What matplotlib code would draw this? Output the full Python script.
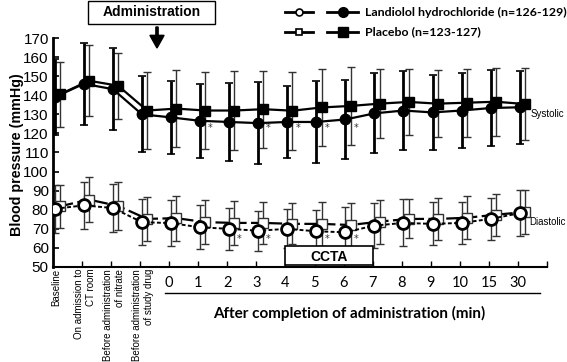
import matplotlib
matplotlib.use("Agg")
import matplotlib.pyplot as plt
from matplotlib.lines import Line2D
from matplotlib.patches import Rectangle, FancyArrow
import numpy as np

categories = ["Baseline", "On admission to\nCT room", "Before administration\nof nitrate",
              "Before administration\nof study drug", "0", "1", "2", "3", "4", "5", "6",
              "7", "8", "9", "10", "15", "30"]

sys_lan = [139, 146, 143.2, 130, 128.4, 126.6, 126, 125.4, 126, 126, 127.3, 130.5, 132, 131, 132, 133.3, 133.7]
sys_lan_sd = [19.9, 21.5, 21.5, 20, 19, 19.4, 20.4, 21.3, 19, 21.7, 20.8, 21, 20.7, 19.8, 19.9, 20.1, 19.2]
sys_pla = [140.5, 147.6, 145, 132, 133, 132, 132, 132.7, 131.9, 133.6, 134.4, 135.6, 136.5, 135.6, 136.1, 136.6, 135.4]
sys_pla_sd = [16.9, 18.7, 17.4, 20.2, 20.2, 20.1, 20.6, 20.2, 20.5, 20, 20.4, 18.2, 17.2, 17.5, 17.9, 17.9, 18.9]

dia_lan = [80.5, 82.3, 80.9, 73.5, 73, 70.8, 70, 69, 70, 68.7, 68.2, 71.7, 73.1, 72.6, 73.1, 75.2, 78.2]
dia_lan_sd = [12.5, 12.3, 12.6, 12.2, 12, 11.5, 11, 10.4, 10.2, 11.3, 13, 11.8, 12.3, 11.2, 11, 11, 12.1]
dia_pla = [81.8, 85.3, 82, 75.2, 75.6, 73.5, 73.1, 73.1, 72.6, 72.6, 72, 73.8, 75.2, 75.2, 75.8, 77.4, 78.8]
dia_pla_sd = [11.2, 11.7, 12.5, 11.7, 11.8, 11.7, 11.5, 11.2, 10.8, 11.4, 11.5, 11.5, 10.2, 10.8, 11.2, 11, 11.7]

sys_star_idx = [5, 7, 8, 9, 10]
dia_star_idx = [6, 7, 9, 10]

yticks = [50, 60, 70, 80, 90, 100, 110, 120, 130, 140, 150, 160, 170]

W, H = 567, 362
fig = plt.figure(figsize=(W / 100, H / 100), dpi=100)
ax = fig.add_axes([53 / W, 1 - 267 / H, (547 - 53) / W, (267 - 38) / H])

n = len(categories)
k = np.arange(n)
xl = k + 0.06
xp = k + 0.24

# Systolic
ax.errorbar(xp, sys_pla, yerr=sys_pla_sd, fmt="none", ecolor="#333333", elinewidth=1.0,
            capsize=3, capthick=1.0, zorder=2)
ax.errorbar(xl, sys_lan, yerr=sys_lan_sd, fmt="none", ecolor="black", elinewidth=2.0,
            capsize=3, capthick=1.2, zorder=2)
ax.plot(xp, sys_pla, "-", color="black", lw=1.6, marker="s", ms=6.5, mfc="black", mec="black", zorder=4)
ax.plot(xl, sys_lan, "-", color="black", lw=1.6, marker="o", ms=7.5, mfc="black", mec="black", zorder=5)

# Diastolic
ax.errorbar(xp, dia_pla, yerr=dia_pla_sd, fmt="none", ecolor="#333333", elinewidth=1.0,
            capsize=3, capthick=1.0, zorder=2)
ax.errorbar(xl, dia_lan, yerr=dia_lan_sd, fmt="none", ecolor="#333333", elinewidth=1.0,
            capsize=3, capthick=1.0, zorder=2)
ax.plot(xp, dia_pla, color="black", lw=1.6, ls=(0, (6, 2)), marker="s", ms=6.5, mfc="white",
        mec="#333333", mew=1.0, zorder=4)
ax.plot(xl, dia_lan, color="black", lw=1.4, ls=(0, (2, 1.2)), marker="o", ms=8.5, mfc="white",
        mec="black", mew=2.0, zorder=5)

for i in sys_star_idx:
    ax.text(k[i] + 0.42, 123, "*", fontsize=7, ha="center", va="center", color="#333333")
for i in dia_star_idx:
    ax.text(k[i] + 0.42, 64.5, "*", fontsize=7, ha="center", va="center", color="#333333")

# CCTA box
ax.add_patch(Rectangle((8, 51), 3, 10, fill=True, facecolor="white", edgecolor="black", lw=1.2, zorder=6))
ax.text(9.5, 55.5, "CCTA", fontsize=10, fontweight="bold", family="Liberation Sans",
        ha="center", va="center", zorder=7)

ax.set_xlim(0, 17)
ax.set_ylim(50, 170)
ax.set_yticks(yticks)
ax.set_yticklabels([str(v) for v in yticks], fontsize=11, family="Liberation Sans")
ax.set_xticks(np.arange(1, 18))
ax.set_xticklabels([])
ax.tick_params(axis="y", direction="in", length=4, width=1.2, pad=3)
ax.tick_params(axis="x", direction="in", length=4, width=1.0)
for s in ["top", "right"]:
    ax.spines[s].set_visible(False)
ax.spines["left"].set_linewidth(2.0)
ax.spines["bottom"].set_linewidth(1.5)

ax.text(-0.058, 0.49, "Blood pressure (mmHg)", transform=ax.transAxes, rotation=90,
        fontsize=10.3, fontweight="bold", family="Liberation Sans", ha="right", va="center")

trans = ax.get_xaxis_transform()
for i in range(4):
    ax.text(k[i] + 0.1, -0.008, categories[i], transform=trans, rotation=90, fontsize=7.0,
            family="Liberation Sans", ha="center", va="top", multialignment="right")
for i in range(4, n):
    ax.text(k[i], -0.07, categories[i], transform=trans, fontsize=10.5, family="Lato",
            ha="center", va="center")
ax.plot([3.85, 16.75], [-0.115, -0.115], transform=trans, color="black", lw=1.0, clip_on=False)
ax.text(10.2, -0.205, "After completion of administration (min)", transform=trans,
        fontsize=11, fontweight="bold", family="Lato", ha="center", va="center")

ax.text(16.42, 130, "Systolic", fontsize=7.0, family="Liberation Sans", ha="left", va="center")
ax.text(16.4, 73.5, "Diastolic", fontsize=6.9, family="Liberation Sans", ha="left", va="center")

# Administration box and arrow
fx = lambda p: p / W
fy = lambda p: 1 - p / H
fig.add_artist(Rectangle((fx(88), fy(24)), fx(215) - fx(88), fy(1) - fy(24), transform=fig.transFigure,
                         facecolor="white", edgecolor="black", lw=1.0))
fig.text(fx(151.5), fy(12.5), "Administration", fontsize=10, fontweight="bold",
         family="Liberation Sans", ha="center", va="center")
fig.add_artist(FancyArrow(fx(157), fy(27), 0, fy(48) - fy(27), width=0.004, head_width=0.025,
                          head_length=0.035, length_includes_head=True, transform=fig.transFigure,
                          color="black"))

# Legend
def leg_sample(x0, x1, y, marker, mfc, ms, mew):
    fig.add_artist(Line2D([fx(x0), fx(x1)], [fy(y), fy(y)], transform=fig.transFigure,
                          color="black", lw=2.0))
    fig.add_artist(Line2D([fx((x0 + x1) / 2)], [fy(y)], transform=fig.transFigure, marker=marker,
                          ms=ms, mfc=mfc, mec="black", mew=mew, ls="none"))

leg_sample(285, 313, 12, "o", "white", 5, 1.2)
leg_sample(327, 358, 12, "o", "black", 7, 1.0)
leg_sample(285, 313, 32, "s", "white", 5, 1.2)
leg_sample(327, 358, 32, "s", "black", 6.5, 1.0)
fig.text(fx(365), fy(12), "Landiolol hydrochloride (n=126-129)", fontsize=8.9, fontweight="bold",
         family="Lato", ha="left", va="center")
fig.text(fx(365), fy(32), "Placebo (n=123-127)", fontsize=8.9, fontweight="bold",
         family="Lato", ha="left", va="center")

fig.savefig("out.png", dpi=100)
